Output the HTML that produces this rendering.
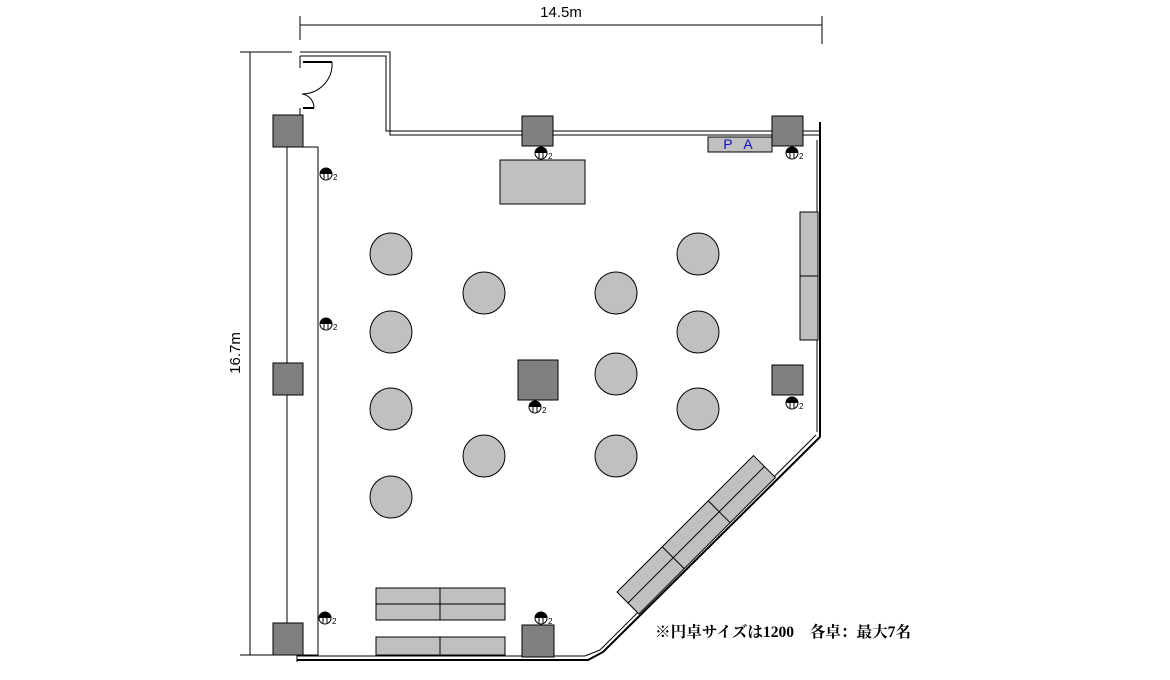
<!DOCTYPE html>
<html><head><meta charset="utf-8"><style>body{margin:0;background:#fff}svg{display:block}</style></head><body>
<svg width="1170" height="680" viewBox="0 0 1170 680" xmlns="http://www.w3.org/2000/svg">
<defs>
<g id="mic">
<circle cx="0" cy="0" r="6" fill="#fff" stroke="#000" stroke-width="1"/>
<path d="M-6,0 A6,6 0 0 1 6,0 Z" fill="#000"/>
<line x1="-2" y1="-5" x2="-2" y2="5" stroke="#000"/><line x1="2" y1="-5" x2="2" y2="5" stroke="#000"/>
</g>
</defs>
<g stroke="#000" fill="none" stroke-width="1">
<line x1="300" y1="25" x2="822" y2="25"/>
<line x1="300" y1="16" x2="300" y2="40"/><line x1="822" y1="16" x2="822" y2="44"/>
<line x1="250" y1="52" x2="250" y2="655"/>
<line x1="240" y1="52" x2="292" y2="52"/><line x1="240" y1="655" x2="275" y2="655"/>
<path d="M300,52 H390 V135 H820"/>
<path d="M300,56 H386 V131 H522"/>
<path d="M552,131 H772 M802,131 H820"/>
<path d="M300,56 V68 M300,108 V116"/>
<line x1="303" y1="62" x2="332" y2="62" stroke-width="2"/>
<line x1="303" y1="108" x2="314" y2="108" stroke-width="2"/>
<path d="M332,62 A30,30 0 0 1 302,94"/>
<path d="M314,108 A14,14 0 0 0 302,94"/>
<line x1="820" y1="122" x2="820" y2="437" stroke-width="2"/>
<line x1="817" y1="140" x2="817" y2="432"/>
<line x1="820" y1="437" x2="603" y2="652" stroke-width="2"/>
<line x1="816" y1="435" x2="600" y2="650"/>
<path d="M603,652 L588,660 H297" stroke-width="2"/>
<path d="M600,650 L585,656 H297"/>
<line x1="297" y1="655" x2="297" y2="662"/>
<rect x="287" y="147" width="31" height="508" fill="#fff"/>
</g>
<g fill="#808080" stroke="#000">
<rect x="273" y="115" width="30" height="32"/>
<rect x="273" y="363" width="30" height="32"/>
<rect x="273" y="623" width="30" height="32"/>
<rect x="522" y="116" width="31" height="30"/>
<rect x="772" y="116" width="31" height="30"/>
<rect x="772" y="365" width="31" height="30"/>
<rect x="518" y="360" width="40" height="40"/>
<rect x="522" y="625" width="32" height="32"/>
</g>
<g fill="#c0c0c0" stroke="#000">
<rect x="708" y="137" width="64" height="15"/>
<rect x="500" y="160" width="85" height="44"/>
<rect x="800" y="212" width="18" height="128"/>
<line x1="800" y1="276" x2="818" y2="276"/>
<rect x="376" y="588" width="129" height="32"/>
<line x1="376" y1="604" x2="505" y2="604"/><line x1="440" y1="588" x2="440" y2="620"/>
<rect x="376" y="637" width="129" height="18"/>
<line x1="440" y1="637" x2="440" y2="655"/>
<g transform="translate(617,592) rotate(-45)">
<rect x="0" y="0" width="193" height="31"/>
<line x1="0" y1="15.5" x2="193" y2="15.5"/>
<line x1="64" y1="0" x2="64" y2="31"/><line x1="129" y1="0" x2="129" y2="31"/>
</g>
<circle cx="391" cy="254" r="21"/><circle cx="391" cy="332" r="21"/>
<circle cx="391" cy="409" r="21"/><circle cx="391" cy="497" r="21"/>
<circle cx="484" cy="293" r="21"/><circle cx="484" cy="456" r="21"/>
<circle cx="616" cy="293" r="21"/><circle cx="616" cy="374" r="21"/>
<circle cx="616" cy="456" r="21"/>
<circle cx="698" cy="254" r="21"/><circle cx="698" cy="332" r="21"/><circle cx="698" cy="409" r="21"/>
</g>
<g font-family="Liberation Sans, sans-serif" font-size="8">
<use href="#mic" x="326" y="174"/><text x="333" y="180">2</text>
<use href="#mic" x="326" y="324"/><text x="333" y="330">2</text>
<use href="#mic" x="325" y="618"/><text x="332" y="624">2</text>
<use href="#mic" x="541" y="153"/><text x="548" y="159">2</text>
<use href="#mic" x="792" y="153"/><text x="799" y="159">2</text>
<use href="#mic" x="792" y="403"/><text x="799" y="409">2</text>
<use href="#mic" x="535" y="407"/><text x="542" y="413">2</text>
<use href="#mic" x="541" y="618"/><text x="548" y="624">2</text>
</g>
<text x="740" y="149" text-anchor="middle" font-family="Liberation Sans, sans-serif" font-size="14" fill="#1010c0" letter-spacing="4">P A</text>
<text x="561" y="17" text-anchor="middle" font-family="Liberation Sans, sans-serif" font-size="15">14.5m</text>
<text transform="translate(240,353) rotate(-90)" text-anchor="middle" font-family="Liberation Sans, sans-serif" font-size="15">16.7m</text>
<text x="655" y="637" font-family="Liberation Serif, 'Noto Serif CJK SC', serif" font-size="15.6" font-weight="bold">※円卓サイズは1200　各卓：最大7名</text>
</svg>
</body></html>
